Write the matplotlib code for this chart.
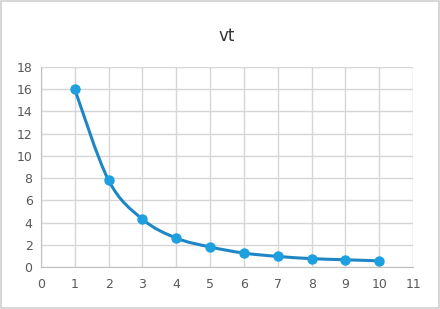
import numpy as np
import matplotlib.pyplot as plt
from matplotlib.path import Path
from matplotlib.patches import PathPatch, Rectangle

# data
x = [1, 2, 3, 4, 5, 6, 7, 8, 9, 10]
vt = [16, 7.8, 4.3, 2.6, 1.8, 1.25, 0.95, 0.75, 0.65, 0.55]
title = 'vt'

fig = plt.figure(figsize=(4.4, 3.09), dpi=100)
fig.patches.append(Rectangle((0.003, 0.004), 0.994, 0.992, transform=fig.transFigure,
                             fill=False, edgecolor='#d0d0d0', linewidth=1.2))
ax = fig.add_axes([0.093, 0.136, 0.846, 0.647])

# smoothed line like excel (catmull-rom as bezier segments)
px = np.array(x, float)
py = np.array(vt, float)
verts = [(px[0], py[0])]
codes = [Path.MOVETO]
n = len(px)
for i in range(n - 1):
    p0 = (px[max(i - 1, 0)], py[max(i - 1, 0)])
    p1 = (px[i], py[i])
    p2 = (px[i + 1], py[i + 1])
    p3 = (px[min(i + 2, n - 1)], py[min(i + 2, n - 1)])
    c1 = (p1[0] + (p2[0] - p0[0]) / 6, p1[1] + (p2[1] - p0[1]) / 6)
    c2 = (p2[0] - (p3[0] - p1[0]) / 6, p2[1] - (p3[1] - p1[1]) / 6)
    verts += [c1, c2, p2]
    codes += [Path.CURVE4] * 3
ax.add_patch(PathPatch(Path(verts, codes), fill=False, edgecolor='#1f86c6',
                       linewidth=2.2, zorder=3))
ax.plot(x, vt, linestyle='none', marker='o', markersize=6.5,
        color='#1ea0e0', zorder=4)

ax.set_xlim(0, 11)
ax.set_ylim(0, 18)
ax.set_xticks(range(0, 12))
ax.set_yticks(range(0, 19, 2))
ax.grid(True, color='#d6d6d6', linewidth=1)
ax.set_axisbelow(True)
for s in ['top', 'right']:
    ax.spines[s].set_visible(False)
for s in ['left', 'bottom']:
    ax.spines[s].set_color('#bfbfbf')
ax.tick_params(length=0, labelsize=9, colors='#595959', pad=8)
ax.tick_params(axis='y', pad=6)

fig.text(0.516, 0.885, title, ha='center', va='center', fontsize=12, color='#333333')

plt.savefig('out.png', dpi=100)
